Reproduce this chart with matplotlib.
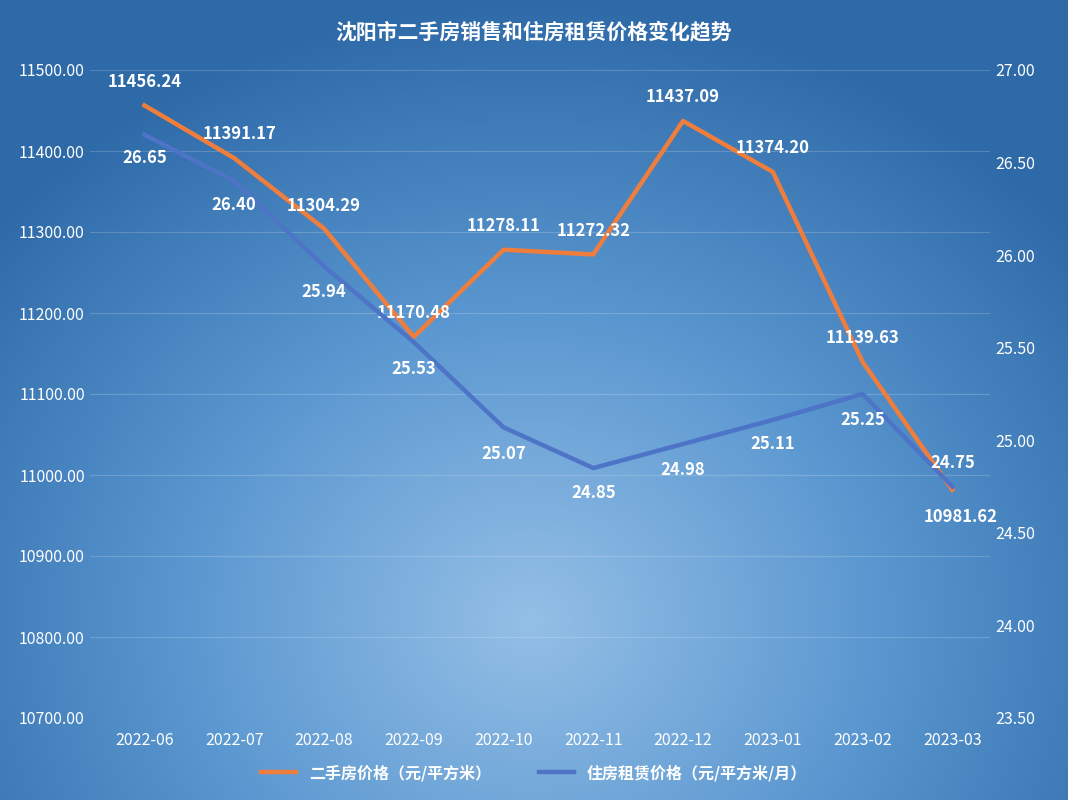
import numpy as np
import matplotlib.pyplot as plt
from matplotlib.colors import LinearSegmentedColormap

plt.rcParams['font.family'] = ['Noto Sans CJK SC', 'DejaVu Sans']

months = ['2022-06', '2022-07', '2022-08', '2022-09', '2022-10', '2022-11',
          '2022-12', '2023-01', '2023-02', '2023-03']
sale = [11456.24, 11391.17, 11304.29, 11170.48, 11278.11, 11272.32,
        11437.09, 11374.20, 11139.63, 10981.62]
rent = [26.65, 26.40, 25.94, 25.53, 25.07, 24.85, 24.98, 25.11, 25.25, 24.75]

# label offsets in pixels (dx, dy)
sale_off = [(0, 23), (5, 24), (0, 23), (0, 24), (0, 24), (0, 23), (0, 24), (0, 24), (0, 24), (8, -27)]
rent_off = [(0, -23), (0, -24), (0, -26), (0, -27), (0, -27), (0, -25), (0, -26), (0, -24), (0, -26), (0, 24)]

fig = plt.figure(figsize=(10.68, 8), dpi=100)

# background radial gradient
bg = fig.add_axes([0, 0, 1, 1], zorder=-10)
yy, xx = np.mgrid[0:800, 0:1068]
r = np.sqrt(((xx - 530) / 700.0) ** 2 + ((yy - 620) / 620.0) ** 2)
cmap = LinearSegmentedColormap.from_list('bgc', ['#94bfe6', '#5a97d0', '#2e6aa8'])
bg.imshow(np.clip(r, 0, 1), cmap=cmap, aspect='auto', extent=[0, 1, 0, 1])
bg.axis('off')

ax1 = fig.add_axes([0.084, 0.1025, 0.843, 0.81])
ax1.patch.set_alpha(0)
ax2 = ax1.twinx()
x = np.arange(len(months))

ax1.plot(x, sale, color='#ef7d3c', lw=3.2, zorder=3, label='二手房价格（元/平方米）')
ax2.plot(x, rent, color='#4d74c6', lw=3.2, zorder=3, label='住房租赁价格（元/平方米/月）')

ax1.set_xlim(-0.61, 9.42)
ax1.set_ylim(10700, 11500)
ax2.set_ylim(23.5, 27.0)
ax1.set_yticks(np.arange(10700, 11501, 100))
ax2.set_yticks(np.arange(23.5, 27.01, 0.5))
ax1.set_yticklabels(['%.2f' % v for v in ax1.get_yticks()])
ax2.set_yticklabels(['%.2f' % v for v in ax2.get_yticks()])
ax1.set_xticks(x)
ax1.set_xticklabels(months)
ax1.grid(axis='y', color='white', alpha=0.18, lw=0.8)
for a in (ax1, ax2):
    for s in a.spines.values():
        s.set_visible(False)
    a.tick_params(length=0, colors='white', labelsize=11.5)
ax1.tick_params(axis='x', pad=10)

for i, v in enumerate(sale):
    ax1.annotate('%.2f' % v, (x[i], v), xytext=sale_off[i], textcoords='offset pixels',
                 ha='center', va='center', color='white', fontsize=12, fontweight='bold', zorder=5)
for i, v in enumerate(rent):
    ax2.annotate('%.2f' % v, (x[i], v), xytext=rent_off[i], textcoords='offset pixels',
                 ha='center', va='center', color='white', fontsize=12, fontweight='bold', zorder=5)

fig.text(0.5, 0.96, '沈阳市二手房销售和住房租赁价格变化趋势', ha='center', va='center',
         color='white', fontsize=15, fontweight='bold')

h1, l1 = ax1.get_legend_handles_labels()
h2, l2 = ax2.get_legend_handles_labels()
leg = fig.legend(h1 + h2, l1 + l2, loc='center', bbox_to_anchor=(0.5, 0.034), ncol=2,
                 frameon=False, fontsize=11.5, columnspacing=3, handlelength=2.2)
for t in leg.get_texts():
    t.set_color('white')
    t.set_fontweight('bold')

fig.savefig('out.png', dpi=100)
